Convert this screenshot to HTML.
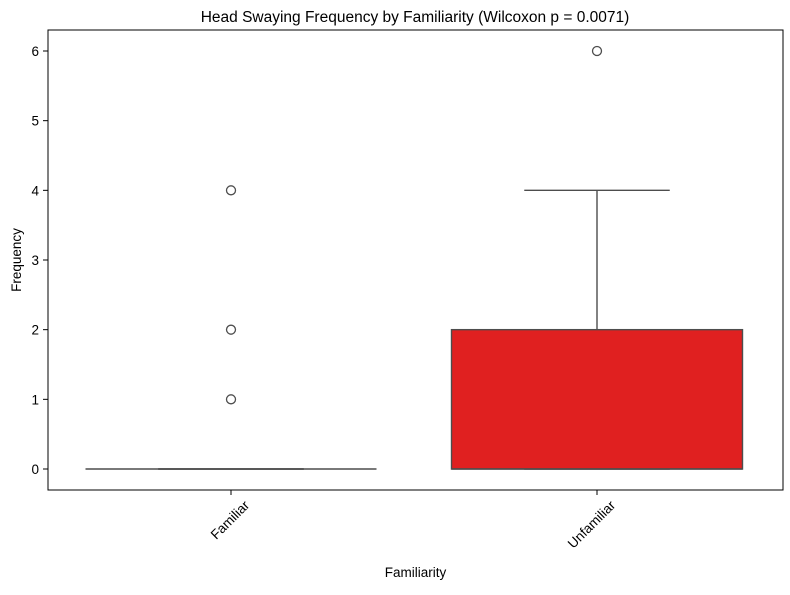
<!DOCTYPE html>
<html><head><meta charset="utf-8"><style>
body{margin:0;background:#fff;}
svg{font-family:"Liberation Sans",sans-serif;}
</style></head><body>
<svg id="chart" width="790" height="590"></svg>
<script>
const categories=["Familiar","Unfamiliar"];
const q1=[0,0];
const medians=[0,0];
const q3=[0,2];
const whiskerLow=[0,0];
const whiskerHigh=[0,4];
const outliers=[[1,2,4],[6]];
const colors=["#3a75c4","#e02020"];
const yTicks=[0,1,2,3,4,5,6];

const svg=document.getElementById('chart');
const NS="http://www.w3.org/2000/svg";
const L=48,R=783,T=30,B=490;
function y(v){return 469-v*(469-51)/6;}
function x(i){return 231+i*366/(categories.length-1);}
const bw=291;
function mk(tag,attrs,parent){const e=document.createElementNS(NS,tag);for(const k in attrs)e.setAttribute(k,attrs[k]);(parent||svg).appendChild(e);return e;}

let t=mk('text',{x:415,y:22,'text-anchor':'middle','font-size':15.5});
t.textContent="Head Swaying Frequency by Familiarity (Wilcoxon p = 0.0071)";



yTicks.forEach(v=>{
 const l=mk('line',{x1:L-5,x2:L,y1:y(v),y2:y(v),stroke:'#000'});
 
 
 const tx=mk('text',{x:L-9,y:y(v)+5,'text-anchor':'end','font-size':13.5});
 tx.textContent=v;
 
 
});

categories.forEach((c,i)=>{
 const cx=x(i);
 const g=mk('g',{});
 
 
 mk('line',{x1:cx,x2:cx,y1:y(q3[i]),y2:y(whiskerHigh[i]),stroke:'#4d4d4d','stroke-width':1.4},g);
 mk('line',{x1:cx,x2:cx,y1:y(q1[i]),y2:y(whiskerLow[i]),stroke:'#4d4d4d','stroke-width':1.4},g);
 mk('line',{x1:cx-bw/4,x2:cx+bw/4,y1:y(whiskerHigh[i]),y2:y(whiskerHigh[i]),stroke:'#4d4d4d','stroke-width':1.4},g);
 mk('line',{x1:cx-bw/4,x2:cx+bw/4,y1:y(whiskerLow[i]),y2:y(whiskerLow[i]),stroke:'#4d4d4d','stroke-width':1.4},g);
 mk('rect',{x:cx-bw/2,y:y(q3[i]),width:bw,height:Math.max(0,y(q1[i])-y(q3[i])),fill:colors[i],stroke:'#4d4d4d','stroke-width':1.4},g);
 mk('line',{x1:cx-bw/2,x2:cx+bw/2,y1:y(medians[i]),y2:y(medians[i]),stroke:'#4d4d4d','stroke-width':1.4},g);
 outliers[i].forEach(v=>{
  const o=mk('circle',{cx:cx,cy:y(v),r:4.5,fill:'none',stroke:'#4d4d4d','stroke-width':1.3});
  
  
 });
 const tk=mk('line',{x1:cx,x2:cx,y1:B,y2:B+5,stroke:'#000'});
 
 
 const ax=cx+12, ay=B+9;
 const lb=mk('text',{x:ax,y:ay,'text-anchor':'end','font-size':13.5,transform:`rotate(-45 ${ax} ${ay})`,dy:'0.75em'});
 lb.textContent=c;
 
 
});

const fr=mk('rect',{x:L,y:T,width:R-L,height:B-T,fill:'none',stroke:'#000','stroke-width':1});



const xt=mk('text',{x:(L+R)/2,y:577,'text-anchor':'middle','font-size':13.5});
xt.textContent="Familiarity";


const yt=mk('text',{x:21,y:260,'text-anchor':'middle','font-size':13.5,transform:'rotate(-90 21 260)'});
yt.textContent="Frequency";


</script>
</body></html>
